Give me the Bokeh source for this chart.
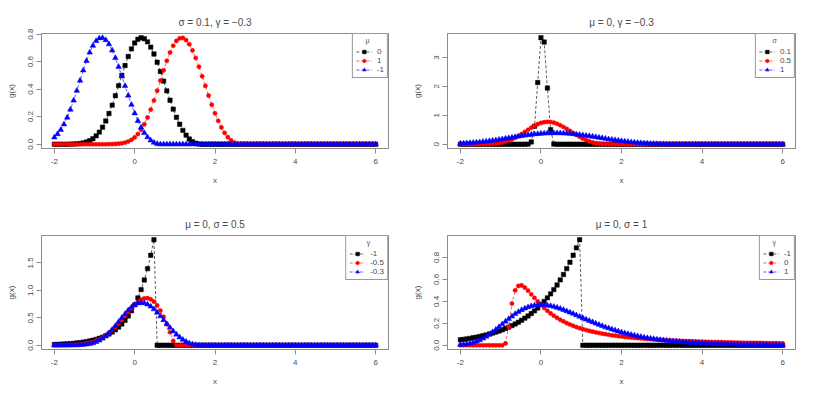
import numpy as np
from bokeh.plotting import figure
from bokeh.layouts import column, row
from bokeh.models import FixedTicker, Legend, LegendItem, Range1d
from bokeh.embed import file_html
from bokeh.resources import INLINE

# ---------------- data ----------------
x_grid = np.linspace(-2, 6, 101)

x_ticks = [-2, 0, 2, 4, 6]
x_tick_labels = ["-2", "0", "2", "4", "6"]

# panel 1 : sigma = 0.1, gamma = -0.3, mu = 0 / 1 / -1
p1_mu0 = [0.000, 0.000, 0.000, 0.000, 0.000, 0.001, 0.002, 0.003, 0.005, 0.010,
          0.016, 0.026, 0.040, 0.061, 0.088, 0.124, 0.169, 0.223, 0.284, 0.353,
          0.426, 0.500, 0.572, 0.638, 0.693, 0.736, 0.763, 0.774, 0.767, 0.744,
          0.706, 0.656, 0.596, 0.529, 0.459, 0.388, 0.320, 0.255, 0.196, 0.145,
          0.101, 0.066, 0.038, 0.019, 0.007, 0.001, 0, 0, 0, 0,
          0, 0, 0, 0, 0, 0, 0, 0, 0, 0,
          0, 0, 0, 0, 0, 0, 0, 0, 0, 0,
          0, 0, 0, 0, 0, 0, 0, 0, 0, 0,
          0, 0, 0, 0, 0, 0, 0, 0, 0, 0,
          0, 0, 0, 0, 0, 0, 0, 0, 0, 0, 0]
p1_mu1 = [0, 0, 0, 0, 0, 0, 0, 0, 0, 0,
          0, 0, 0, 0, 0, 0, 0, 0.001, 0.001, 0.002,
          0.004, 0.007, 0.012, 0.020, 0.032, 0.050, 0.074, 0.105, 0.145, 0.194,
          0.252, 0.318, 0.389, 0.463, 0.537, 0.606, 0.667, 0.716, 0.751, 0.770,
          0.773, 0.757, 0.727, 0.682, 0.627, 0.563, 0.494, 0.424, 0.354, 0.287,
          0.225, 0.170, 0.122, 0.082, 0.051, 0.028, 0.012, 0.003, 0, 0,
          0, 0, 0, 0, 0, 0, 0, 0, 0, 0,
          0, 0, 0, 0, 0, 0, 0, 0, 0, 0,
          0, 0, 0, 0, 0, 0, 0, 0, 0, 0,
          0, 0, 0, 0, 0, 0, 0, 0, 0, 0, 0]
p1_mum1 = [0.050, 0.074, 0.105, 0.145, 0.194, 0.252, 0.318, 0.389, 0.463, 0.537,
           0.606, 0.667, 0.716, 0.751, 0.770, 0.773, 0.757, 0.727, 0.682, 0.627,
           0.563, 0.494, 0.424, 0.354, 0.287, 0.225, 0.170, 0.122, 0.082, 0.051,
           0.028, 0.012, 0.003, 0, 0, 0, 0, 0, 0, 0,
           0, 0, 0, 0, 0, 0, 0, 0, 0, 0,
           0, 0, 0, 0, 0, 0, 0, 0, 0, 0,
           0, 0, 0, 0, 0, 0, 0, 0, 0, 0,
           0, 0, 0, 0, 0, 0, 0, 0, 0, 0,
           0, 0, 0, 0, 0, 0, 0, 0, 0, 0,
           0, 0, 0, 0, 0, 0, 0, 0, 0, 0, 0]
p1_labels = ["0", "1", "-1"]
p1_yticks = [0.0, 0.2, 0.4, 0.6, 0.8]
p1_ytick_labels = ["0.0", "0.2", "0.4", "0.6", "0.8"]

# panel 2 : mu = 0, gamma = -0.3, sigma = 0.1 / 0.5 / 1
p2_s01 = [0, 0, 0, 0, 0, 0, 0, 0, 0, 0,
          0, 0, 0, 0, 0, 0, 0, 0, 0, 0,
          0, 0.004, 0.080, 0.621, 2.131, 3.679, 3.531, 1.942, 0.506, 0.006,
          0, 0, 0, 0, 0, 0, 0, 0, 0, 0,
          0, 0, 0, 0, 0, 0, 0, 0, 0, 0,
          0, 0, 0, 0, 0, 0, 0, 0, 0, 0,
          0, 0, 0, 0, 0, 0, 0, 0, 0, 0,
          0, 0, 0, 0, 0, 0, 0, 0, 0, 0,
          0, 0, 0, 0, 0, 0, 0, 0, 0, 0,
          0, 0, 0, 0, 0, 0, 0, 0, 0, 0, 0]
p2_s05 = list(p1_mu0)
p2_s1 = [0.025, 0.030, 0.037, 0.044, 0.053, 0.062, 0.073, 0.085, 0.097, 0.111,
         0.126, 0.142, 0.159, 0.177, 0.195, 0.213, 0.232, 0.250, 0.268, 0.286,
         0.303, 0.319, 0.333, 0.347, 0.358, 0.368, 0.376, 0.382, 0.385, 0.387,
         0.386, 0.384, 0.379, 0.372, 0.363, 0.353, 0.341, 0.328, 0.313, 0.298,
         0.282, 0.265, 0.247, 0.230, 0.212, 0.194, 0.177, 0.160, 0.143, 0.128,
         0.112, 0.098, 0.085, 0.072, 0.061, 0.051, 0.041, 0.033, 0.026, 0.019,
         0.014, 0.010, 0.006, 0.003, 0.002, 0.001, 0, 0, 0, 0,
         0, 0, 0, 0, 0, 0, 0, 0, 0, 0,
         0, 0, 0, 0, 0, 0, 0, 0, 0, 0,
         0, 0, 0, 0, 0, 0, 0, 0, 0, 0, 0]
p2_labels = ["0.1", "0.5", "1"]
p2_yticks = [0, 1, 2, 3]
p2_ytick_labels = ["0", "1", "2", "3"]

# panel 3 : mu = 0, sigma = 0.5, gamma = -1 / -0.5 / -0.3
p3_gm1 = [0.013, 0.016, 0.019, 0.022, 0.026, 0.030, 0.035, 0.041, 0.048, 0.057,
          0.067, 0.078, 0.092, 0.108, 0.127, 0.149, 0.174, 0.205, 0.240, 0.282,
          0.331, 0.388, 0.455, 0.534, 0.627, 0.736, 0.863, 1.013, 1.189, 1.395,
          1.638, 1.922, 0, 0, 0, 0, 0, 0, 0, 0,
          0, 0, 0, 0, 0, 0, 0, 0, 0, 0,
          0, 0, 0, 0, 0, 0, 0, 0, 0, 0,
          0, 0, 0, 0, 0, 0, 0, 0, 0, 0,
          0, 0, 0, 0, 0, 0, 0, 0, 0, 0,
          0, 0, 0, 0, 0, 0, 0, 0, 0, 0,
          0, 0, 0, 0, 0, 0, 0, 0, 0, 0, 0]
p3_gm05 = [0.001, 0.001, 0.002, 0.003, 0.004, 0.006, 0.009, 0.013, 0.018, 0.025,
           0.035, 0.047, 0.064, 0.084, 0.110, 0.141, 0.179, 0.223, 0.274, 0.331,
           0.395, 0.462, 0.533, 0.604, 0.673, 0.736, 0.789, 0.830, 0.853, 0.857,
           0.837, 0.794, 0.725, 0.632, 0.518, 0.384, 0.237, 0.080, 0, 0,
           0, 0, 0, 0, 0, 0, 0, 0, 0, 0,
           0, 0, 0, 0, 0, 0, 0, 0, 0, 0,
           0, 0, 0, 0, 0, 0, 0, 0, 0, 0,
           0, 0, 0, 0, 0, 0, 0, 0, 0, 0,
           0, 0, 0, 0, 0, 0, 0, 0, 0, 0,
           0, 0, 0, 0, 0, 0, 0, 0, 0, 0, 0]
p3_gm03 = list(p1_mu0)
p3_labels = ["-1", "-0.5", "-0.3"]
p3_yticks = [0.0, 0.5, 1.0, 1.5]
p3_ytick_labels = ["0.0", "0.5", "1.0", "1.5"]

# panel 4 : mu = 0, sigma = 1, gamma = -1 / 0 / 1
p4_gm1 = [0.050, 0.054, 0.058, 0.063, 0.069, 0.074, 0.080, 0.087, 0.094, 0.102,
          0.111, 0.120, 0.130, 0.141, 0.153, 0.165, 0.179, 0.194, 0.210, 0.228,
          0.247, 0.267, 0.289, 0.313, 0.340, 0.368, 0.399, 0.432, 0.468, 0.507,
          0.549, 0.595, 0.644, 0.698, 0.756, 0.819, 0.887, 0.961, 0, 0,
          0, 0, 0, 0, 0, 0, 0, 0, 0, 0,
          0, 0, 0, 0, 0, 0, 0, 0, 0, 0,
          0, 0, 0, 0, 0, 0, 0, 0, 0, 0,
          0, 0, 0, 0, 0, 0, 0, 0, 0, 0,
          0, 0, 0, 0, 0, 0, 0, 0, 0, 0,
          0, 0, 0, 0, 0, 0, 0, 0, 0, 0, 0]
p4_g0 = [0, 0, 0, 0, 0, 0, 0, 0, 0, 0,
         0, 0, 0, 0, 0.017, 0.168, 0.380, 0.500, 0.540, 0.545,
         0.525, 0.497, 0.464, 0.431, 0.399, 0.368, 0.340, 0.314, 0.290, 0.269,
         0.250, 0.232, 0.217, 0.202, 0.189, 0.177, 0.166, 0.156, 0.147, 0.139,
         0.131, 0.124, 0.118, 0.112, 0.106, 0.101, 0.096, 0.091, 0.087, 0.083,
         0.080, 0.076, 0.073, 0.070, 0.067, 0.065, 0.062, 0.060, 0.057, 0.055,
         0.053, 0.051, 0.050, 0.048, 0.046, 0.045, 0.043, 0.042, 0.041, 0.039,
         0.038, 0.037, 0.036, 0.035, 0.034, 0.033, 0.032, 0.031, 0.030, 0.029,
         0.029, 0.028, 0.027, 0.026, 0.026, 0.025, 0.024, 0.024, 0.023, 0.023,
         0.022, 0.022, 0.021, 0.021, 0.020, 0.020, 0.019, 0.019, 0.019, 0.018, 0.018]
p4_g1 = [0.005, 0.007, 0.012, 0.017, 0.025, 0.035, 0.047, 0.062, 0.079, 0.099,
         0.120, 0.143, 0.167, 0.192, 0.216, 0.240, 0.263, 0.285, 0.304, 0.321,
         0.336, 0.347, 0.357, 0.363, 0.367, 0.368, 0.367, 0.363, 0.358, 0.351,
         0.343, 0.333, 0.323, 0.311, 0.299, 0.287, 0.274, 0.261, 0.248, 0.235,
         0.223, 0.211, 0.199, 0.187, 0.176, 0.165, 0.155, 0.145, 0.136, 0.127,
         0.118, 0.110, 0.103, 0.096, 0.089, 0.083, 0.077, 0.072, 0.066, 0.062,
         0.057, 0.053, 0.049, 0.046, 0.042, 0.039, 0.036, 0.034, 0.031, 0.029,
         0.027, 0.025, 0.023, 0.021, 0.019, 0.018, 0.017, 0.015, 0.014, 0.013,
         0.012, 0.011, 0.010, 0.010, 0.009, 0.008, 0.008, 0.007, 0.006, 0.006,
         0.005, 0.005, 0.005, 0.004, 0.004, 0.004, 0.003, 0.003, 0.003, 0.003, 0.002]
p4_labels = ["-1", "0", "1"]
p4_yticks = [0.0, 0.2, 0.4, 0.6, 0.8]
p4_ytick_labels = ["0.0", "0.2", "0.4", "0.6", "0.8"]

# ---------------- styling ----------------
FONT = "Liberation Sans"
TXT = "#4a4a4a"
FRAME = "#8c8c8c"
COLORS = ["black", "red", "blue"]
MARKERS = ["square", "circle", "triangle"]
SIZES = [4.4, 4.2, 5.6]
NB = "\u00a0"


def make_panel(title, series, labels, legend_title, title_pad, yticks, ylabels,
               width, height, bl, br, bt, bb):
    xmin, xmax = float(min(x_grid)), float(max(x_grid))
    dx = 0.04 * (xmax - xmin)
    ymax = max(max(s) for s in series)
    ymin = min(min(s) for s in series)
    dy = 0.04 * (ymax - ymin)
    p = figure(width=width, height=height, output_backend="svg",
               toolbar_location=None,
               x_range=Range1d(xmin - dx, xmax + dx),
               y_range=Range1d(ymin - dy, ymax + dy),
               min_border_left=bl, min_border_right=br,
               min_border_top=bt, min_border_bottom=bb)
    p.xgrid.visible = False
    p.ygrid.visible = False
    p.outline_line_color = FRAME
    p.outline_line_width = 1
    p.background_fill_color = "white"
    p.border_fill_color = "white"

    p.title.text = title
    p.title.align = "center"
    p.title.text_font = FONT
    p.title.text_font_size = "10px"
    p.title.text_font_style = "normal"
    p.title.text_color = TXT
    p.title.standoff = 11

    p.xaxis.ticker = FixedTicker(ticks=x_ticks)
    p.xaxis.major_label_overrides = {float(t): l for t, l in zip(x_ticks, x_tick_labels)}
    p.yaxis.ticker = FixedTicker(ticks=yticks)
    p.yaxis.major_label_overrides = {float(t): l for t, l in zip(yticks, ylabels)}
    p.yaxis.major_label_orientation = "vertical"
    p.xaxis.axis_label = "x"
    p.yaxis.axis_label = "g(x)"
    for ax in (p.xaxis, p.yaxis):
        ax.axis_line_color = FRAME
        ax.major_tick_line_color = FRAME
        ax.minor_tick_line_color = None
        ax.major_tick_out = 5
        ax.major_tick_in = 0
        ax.major_label_text_font = FONT
        ax.major_label_text_font_size = "8px"
        ax.major_label_text_color = TXT
        ax.axis_label_text_font = FONT
        ax.axis_label_text_font_size = "8px"
        ax.axis_label_text_font_style = "normal"
        ax.axis_label_text_color = TXT
    p.xaxis.major_label_standoff = 5
    p.xaxis.axis_label_standoff = 9
    p.yaxis.major_label_standoff = 3
    p.yaxis.axis_label_standoff = 10

    items = []
    for ys, lab, c, m, sz in zip(series, labels, COLORS, MARKERS, SIZES):
        ln = p.line(x_grid, ys, line_color=c, line_dash="3 2", line_width=0.9,
                    line_alpha=0.7)
        sc = p.scatter(x_grid, ys, marker=m, size=sz, fill_color=c, line_color=c,
                       line_width=0.5)
        items.append(LegendItem(label=lab, renderers=[ln, sc]))

    leg = Legend(items=items, location="top_right",
                 title=NB * title_pad + legend_title,
                 margin=0, padding=3, spacing=0,
                 label_width=1,
                 label_height=9, glyph_height=9, glyph_width=16,
                 label_standoff=5,
                 label_text_font=FONT, label_text_font_size="8px",
                 label_text_color=TXT,
                 title_text_font=FONT, title_text_font_size="7px",
                 title_text_font_style="normal", title_text_color="#555555",
                 title_standoff=3,
                 border_line_color="#333333", border_line_width=1,
                 background_fill_color="white", background_fill_alpha=1.0)
    p.add_layout(leg)
    return p


p1 = make_panel("σ = 0.1, γ = −0.3", [p1_mu0, p1_mu1, p1_mum1], p1_labels, "μ", 5,
                p1_yticks, p1_ytick_labels, 408, 197, 41, 20, 33, 49)
p2 = make_panel("μ = 0, γ = −0.3", [p2_s01, p2_s05, p2_s1], p2_labels, "σ", 7,
                p2_yticks, p2_ytick_labels, 410, 197, 39, 23, 33, 49)
p3 = make_panel("μ = 0, σ = 0.5", [p3_gm1, p3_gm05, p3_gm03], p3_labels, "γ", 9,
                p3_yticks, p3_ytick_labels, 408, 197, 41, 20, 38, 45)
p4 = make_panel("μ = 0, σ = 1", [p4_gm1, p4_g0, p4_g1], p4_labels, "γ", 5,
                p4_yticks, p4_ytick_labels, 410, 197, 39, 23, 38, 45)

layout = column(row(p1, p2), row(p3, p4))

open("out.html", "w").write(file_html(layout, INLINE))
